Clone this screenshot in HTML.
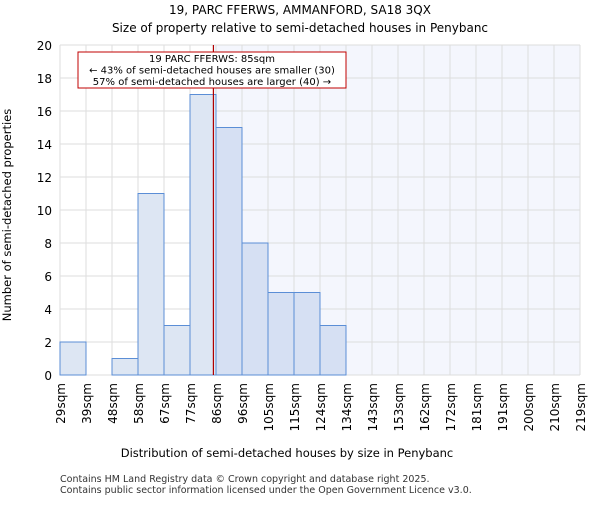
<!DOCTYPE html>
<html><head><meta charset="utf-8"><style>
body{margin:0;background:#fff;font-family:"Liberation Sans","DejaVu Sans",sans-serif}
</style></head><body>
<svg width="600" height="500" xmlns="http://www.w3.org/2000/svg" font-family="DejaVu Sans, Liberation Sans, sans-serif">
<text x="300" y="14" font-size="12" text-anchor="middle">19, PARC FFERWS, AMMANFORD, SA18 3QX</text>
<text x="300" y="32" font-size="12" text-anchor="middle">Size of property relative to semi-detached houses in Penybanc</text>
<g id="plot"></g>
<text x="287" y="457" font-size="11.5" text-anchor="middle">Distribution of semi-detached houses by size in Penybanc</text>
<text transform="translate(11,215) rotate(-90)" font-size="11.5" text-anchor="middle">Number of semi-detached properties</text>
<text x="60" y="482" font-size="9.5" fill="#333">Contains HM Land Registry data © Crown copyright and database right 2025.</text>
<text x="60" y="493" font-size="9.5" fill="#333">Contains public sector information licensed under the Open Government Licence v3.0.</text>
</svg>
<script>
const categories=["29sqm","39sqm","48sqm","58sqm","67sqm","77sqm","86sqm","96sqm","105sqm","115sqm","124sqm","134sqm","143sqm","153sqm","162sqm","172sqm","181sqm","191sqm","200sqm","210sqm","219sqm"];
const counts=[2,0,1,11,3,17,15,8,5,5,3,0,0,0,0,0,0,0,0,0];
const yTicks=[0,2,4,6,8,10,12,14,16,18,20];
const propertyBin=5.9;
const ns="http://www.w3.org/2000/svg";
const g=document.getElementById('plot');
const X0=60,X1=580,Y0=375,Y1=45,nb=counts.length;
const x=i=>X0+(X1-X0)*i/nb;
const y=v=>Y0-(Y0-Y1)*v/20;
function mk(t,a){const e=document.createElementNS(ns,t);for(const k in a)e.setAttribute(k,a[k]);g.appendChild(e);return e;}
let e;
e=mk('rect',{x:X0,y:Y1,width:X1-X0,height:Y0-Y1,fill:'#fff'});


e=mk('rect',{x:x(propertyBin),y:Y1,width:X1-x(propertyBin),height:Y0-Y1,fill:'#f4f6fd'});


for(let i=0;i<=nb;i++){e=mk('line',{x1:x(i),x2:x(i),y1:Y1,y2:Y0,stroke:'#ddd','stroke-width':1});

}
yTicks.forEach(t=>{e=mk('line',{x1:X0,x2:X1,y1:y(t),y2:y(t),stroke:'#ddd','stroke-width':1});


e=mk('text',{x:X0-8,y:y(t)+5,'font-size':12,'text-anchor':'end'});e.textContent=t;

});
counts.forEach((c,i)=>{if(!c)return;e=mk('rect',{x:x(i),y:y(c),width:x(i+1)-x(i),height:Y0-y(c),fill:i<propertyBin?'#dde6f3':'#d6e0f3',stroke:'#5b8ed6','stroke-width':1});

});
categories.forEach((c,i)=>{e=mk('text',{transform:`translate(${x(i)+5},${Y0+8}) rotate(-90)`,'font-size':12,'text-anchor':'end'});e.textContent=c;

});
e=mk('line',{x1:x(propertyBin),x2:x(propertyBin),y1:Y1,y2:Y0,stroke:'#b00000','stroke-width':1.2});


e=mk('rect',{x:78,y:52,width:268,height:36,fill:'#fff',stroke:'#c00000','stroke-width':1});


["19 PARC FFERWS: 85sqm","← 43% of semi-detached houses are smaller (30)","57% of semi-detached houses are larger (40) →"].forEach((s,k)=>{e=mk('text',{x:212,y:62+k*11.5,'font-size':10,'text-anchor':'middle'});e.textContent=s;

});
</script>
</body></html>
